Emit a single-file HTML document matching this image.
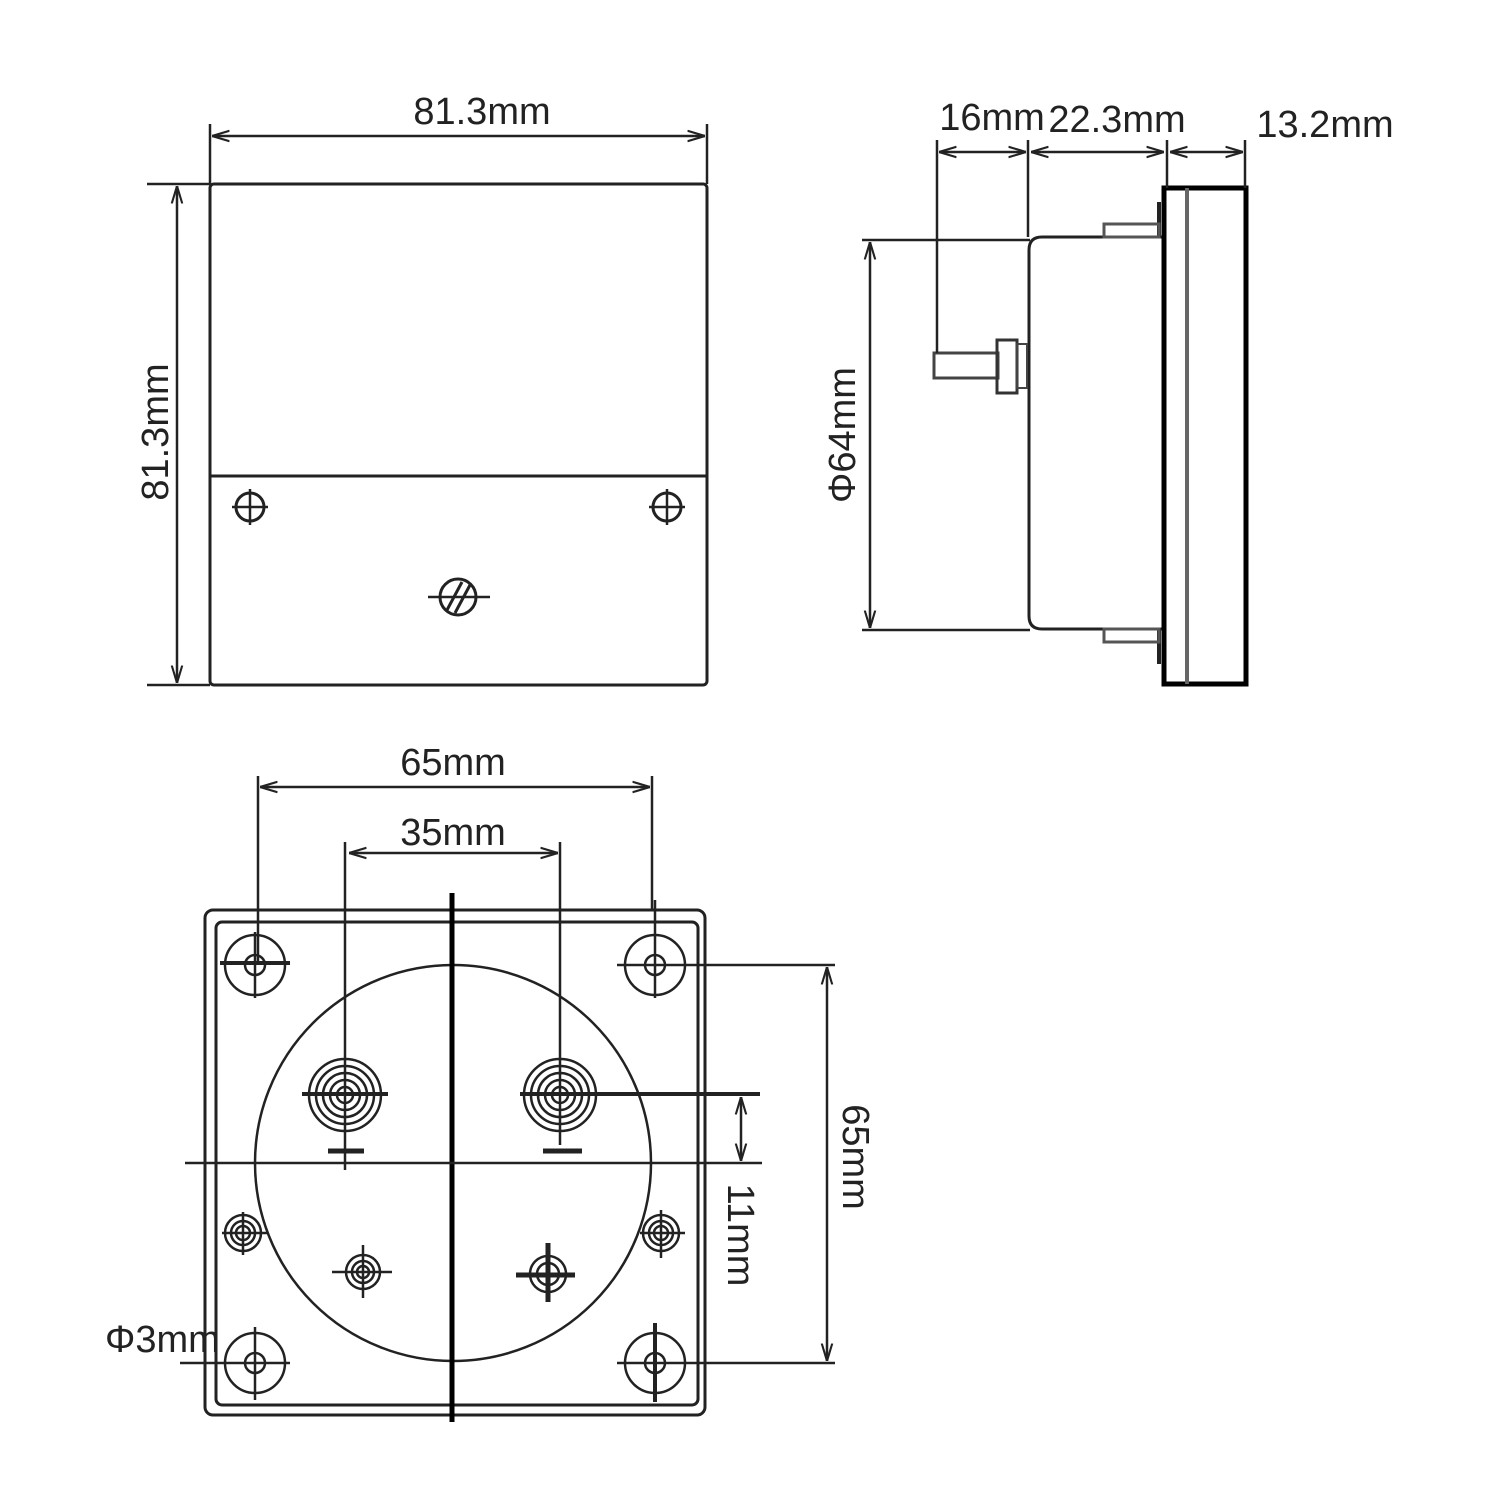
<!DOCTYPE html>
<html><head><meta charset="utf-8"><style>body{margin:0;background:#fff}svg{display:block}text{font-family:"Liberation Sans",Arial,sans-serif;font-size:38px;fill:#222}</style></head><body>
<svg width="1500" height="1500" viewBox="0 0 1500 1500" xmlns="http://www.w3.org/2000/svg">
<defs>
<marker id="a" viewBox="0 0 10 10" refX="10" refY="5" markerWidth="7" markerHeight="7" orient="auto-start-reverse"><path d="M0,2 L10,5 L0,8" fill="none" stroke="#222" stroke-width="1.2"/></marker>
</defs>
<g fill="none" stroke="#222" stroke-width="2.5">
<rect x="210" y="184" width="497" height="501" rx="4" stroke-width="3"/>
<line x1="210" y1="476" x2="707" y2="476" stroke-width="3"/>
<circle cx="250" cy="507" r="14" stroke-width="3"/><line x1="232" y1="507" x2="268" y2="507"/><line x1="250" y1="489" x2="250" y2="525"/>
<circle cx="667" cy="507" r="14" stroke-width="3"/><line x1="649" y1="507" x2="685" y2="507"/><line x1="667" y1="489" x2="667" y2="525"/>
<circle cx="458" cy="597" r="18" stroke-width="3"/><line x1="428" y1="597" x2="490" y2="597"/>
<line x1="447" y1="610" x2="462" y2="582" stroke-width="3"/><line x1="455" y1="613" x2="470" y2="585" stroke-width="3"/>
<line x1="210" y1="124" x2="210" y2="184"/><line x1="707" y1="124" x2="707" y2="184"/>
<line x1="212" y1="136" x2="705" y2="136" marker-start="url(#a)" marker-end="url(#a)"/>
<line x1="147" y1="184" x2="210" y2="184"/><line x1="147" y1="685" x2="210" y2="685"/>
<line x1="177" y1="186" x2="177" y2="683" marker-start="url(#a)" marker-end="url(#a)"/>
<path d="M1162,237 L1042,237 Q1029,237 1029,250 L1029,616 Q1029,629 1042,629 L1162,629" stroke-width="3"/>
<rect x="1164" y="188" width="82" height="496" stroke="#000" stroke-width="5"/>
<line x1="1187" y1="188" x2="1187" y2="684" stroke="#666" stroke-width="4"/>
<line x1="1159" y1="202" x2="1159" y2="237" stroke-width="4"/><line x1="1159" y1="629" x2="1159" y2="664" stroke-width="4"/>
<rect x="1104" y="224" width="55" height="13" stroke="#555" stroke-width="3"/>
<rect x="1104" y="629" width="55" height="13" stroke="#555" stroke-width="3"/>
<rect x="934" y="353" width="64" height="25" stroke="#444" stroke-width="3"/>
<rect x="997" y="340" width="20" height="53" stroke="#333" stroke-width="3"/>
<rect x="1017" y="344" width="10" height="44" stroke="#444" stroke-width="2"/>
<line x1="937" y1="140" x2="937" y2="353"/><line x1="1028" y1="140" x2="1028" y2="237"/>
<line x1="1167" y1="140" x2="1167" y2="188"/><line x1="1245" y1="140" x2="1245" y2="188"/>
<line x1="939" y1="152" x2="1026" y2="152" marker-start="url(#a)" marker-end="url(#a)"/>
<line x1="1031" y1="152" x2="1164" y2="152" marker-start="url(#a)" marker-end="url(#a)"/>
<line x1="1170" y1="152" x2="1243" y2="152" marker-start="url(#a)" marker-end="url(#a)"/>
<line x1="862" y1="240" x2="1030" y2="240"/><line x1="862" y1="630" x2="1030" y2="630"/>
<line x1="870" y1="242" x2="870" y2="628" marker-start="url(#a)" marker-end="url(#a)"/>
<rect x="205" y="910" width="500" height="505" rx="8" stroke-width="3"/>
<rect x="216" y="922" width="482" height="483" rx="6" stroke-width="3"/>
<circle cx="453" cy="1163" r="198"/>
<line x1="452" y1="893" x2="452" y2="1422" stroke="#000" stroke-width="5"/>
<line x1="185" y1="1163" x2="762" y2="1163"/>
<g><circle cx="255" cy="965" r="30"/><circle cx="255" cy="965" r="10"/><line x1="255" y1="932" x2="255" y2="998"/><line x1="220" y1="963" x2="290" y2="963" stroke-width="4"/></g>
<g><circle cx="655" cy="965" r="30"/><circle cx="655" cy="965" r="10"/><line x1="655" y1="900" x2="655" y2="998"/><line x1="617" y1="965" x2="835" y2="965"/></g>
<g><circle cx="255" cy="1363" r="30"/><circle cx="255" cy="1363" r="10"/><line x1="255" y1="1327" x2="255" y2="1400"/><line x1="180" y1="1363" x2="290" y2="1363"/></g>
<g><circle cx="655" cy="1363" r="30"/><circle cx="655" cy="1363" r="10"/><line x1="655" y1="1323" x2="655" y2="1402" stroke-width="4"/><line x1="617" y1="1363" x2="835" y2="1363"/></g>
<g><circle cx="345" cy="1095" r="36"/><circle cx="345" cy="1095" r="29"/><circle cx="345" cy="1095" r="22"/><circle cx="345" cy="1095" r="15"/><circle cx="345" cy="1095" r="8"/>
<line x1="302" y1="1094" x2="388" y2="1094" stroke-width="4"/><line x1="345" y1="842" x2="345" y2="1170"/><line x1="328" y1="1151" x2="364" y2="1151" stroke-width="5"/></g>
<g><circle cx="560" cy="1095" r="36"/><circle cx="560" cy="1095" r="29"/><circle cx="560" cy="1095" r="22"/><circle cx="560" cy="1095" r="15"/><circle cx="560" cy="1095" r="8"/>
<line x1="520" y1="1094" x2="760" y2="1094" stroke-width="4"/><line x1="560" y1="842" x2="560" y2="1145"/><line x1="543" y1="1151" x2="582" y2="1151" stroke-width="5"/></g>
<g><circle cx="243" cy="1233" r="18"/><circle cx="243" cy="1233" r="12"/><circle cx="243" cy="1233" r="7"/><line x1="222" y1="1233" x2="268" y2="1233"/><line x1="243" y1="1212" x2="243" y2="1255"/></g>
<g><circle cx="661" cy="1233" r="18"/><circle cx="661" cy="1233" r="12"/><circle cx="661" cy="1233" r="7"/><line x1="640" y1="1233" x2="685" y2="1233"/><line x1="661" y1="1210" x2="661" y2="1258"/></g>
<g><circle cx="363" cy="1272" r="17"/><circle cx="363" cy="1272" r="11"/><circle cx="363" cy="1272" r="6"/><line x1="332" y1="1272" x2="392" y2="1272"/><line x1="363" y1="1245" x2="363" y2="1298"/></g>
<g><circle cx="548" cy="1274" r="18"/><circle cx="548" cy="1274" r="11"/><line x1="516" y1="1275" x2="575" y2="1275" stroke-width="5"/><line x1="548" y1="1243" x2="548" y2="1302" stroke-width="5"/></g>
<line x1="258" y1="776" x2="258" y2="965"/><line x1="652" y1="776" x2="652" y2="910"/>
<line x1="260" y1="787" x2="650" y2="787" marker-start="url(#a)" marker-end="url(#a)"/>
<line x1="349" y1="853" x2="558" y2="853" marker-start="url(#a)" marker-end="url(#a)"/>
<line x1="827" y1="967" x2="827" y2="1361" marker-start="url(#a)" marker-end="url(#a)"/>
<line x1="741" y1="1097" x2="741" y2="1161" marker-start="url(#a)" marker-end="url(#a)"/>
</g>
<text x="482" y="124" text-anchor="middle">81.3mm</text>
<text transform="translate(168,432) rotate(-90)" text-anchor="middle">81.3mm</text>
<text x="992" y="130" text-anchor="middle">16mm</text>
<text x="1117" y="132" text-anchor="middle">22.3mm</text>
<text x="1325" y="137" text-anchor="middle">13.2mm</text>
<text transform="translate(855,435) rotate(-90)" text-anchor="middle">Φ64mm</text>
<text x="453" y="775" text-anchor="middle">65mm</text>
<text x="453" y="845" text-anchor="middle">35mm</text>
<text transform="translate(843,1157) rotate(90)" text-anchor="middle">65mm</text>
<text transform="translate(728,1235) rotate(90)" text-anchor="middle">11mm</text>
<text x="105" y="1352">Φ3mm</text>
</svg>
</body></html>
